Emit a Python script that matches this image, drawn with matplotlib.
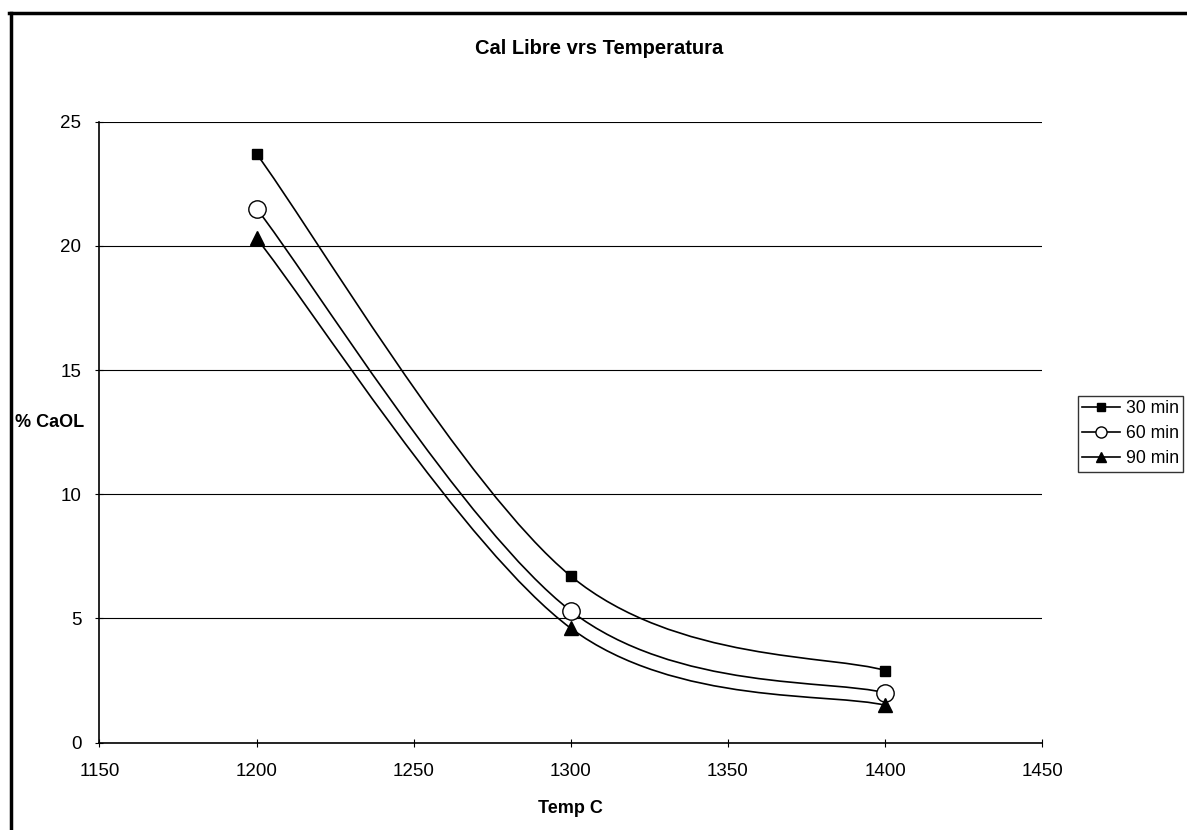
import numpy as np
import matplotlib.pyplot as plt
from matplotlib.path import Path
from matplotlib.patches import PathPatch
from matplotlib.lines import Line2D

plt.rcParams["font.family"] = ["Liberation Sans", "DejaVu Sans"]

# data
temps = [1200, 1300, 1400]
series_names = ["30 min", "60 min", "90 min"]
caol_30 = [23.7, 6.7, 2.9]
caol_60 = [21.5, 5.3, 2.0]
caol_90 = [20.3, 4.6, 1.5]
markers = ["s", "o", "^"]


def smooth_path(x, y):
    """Excel-style smoothed line as cubic Bezier segments."""
    pts = np.column_stack([x, y]).astype(float)
    ext = np.vstack([pts[0], pts, pts[-1]])
    verts = [pts[0]]
    codes = [Path.MOVETO]
    for i in range(len(pts) - 1):
        p0, p1, p2, p3 = ext[i], ext[i + 1], ext[i + 2], ext[i + 3]
        c1 = p1 + (p2 - p0) / 6.0
        c2 = p2 - (p3 - p1) / 6.0
        verts += [c1, c2, p2]
        codes += [Path.CURVE4] * 3
    return Path(verts, codes)


fig = plt.figure(figsize=(11.87, 8.3), dpi=100)
ax = fig.add_axes([0.0838, 0.1054, 0.7942, 0.748])

ax.set_axisbelow(True)
ax.yaxis.grid(color="black", linewidth=0.8)

handles = []
for vals, m, name in zip([caol_30, caol_60, caol_90], markers, series_names):
    ax.add_patch(PathPatch(smooth_path(temps, vals), facecolor="none",
                           edgecolor="black", linewidth=1.2, zorder=3))
    if m == "o":
        kw = dict(markersize=12.5, markerfacecolor="white", markeredgewidth=1.0)
        leg_ms = 8
    elif m == "s":
        kw = dict(markersize=7.5, markerfacecolor="black")
        leg_ms = 5.5
    else:
        kw = dict(markersize=10, markerfacecolor="black")
        leg_ms = 7.5
    ax.plot(temps, vals, linestyle="none", marker=m, color="black", zorder=4, **kw)
    kw_leg = dict(kw)
    kw_leg["markersize"] = leg_ms
    handles.append(Line2D([], [], color="black", linewidth=1.2, marker=m, **kw_leg))

ax.set_xlim(1150, 1450)
ax.set_ylim(0, 25)
ax.set_xticks(range(1150, 1451, 50))
ax.set_yticks(range(0, 26, 5))
ax.tick_params(direction="inout", length=6, width=0.8, labelsize=13.5)
ax.tick_params(axis="x", pad=12)
ax.tick_params(axis="y", pad=10)

ax.spines["right"].set_visible(False)
ax.spines["top"].set_visible(False)
ax.spines["left"].set_linewidth(1.2)
ax.spines["bottom"].set_linewidth(1.2)

fig.text(599 / 1187, 1 - 48 / 830, "Cal Libre vrs Temperatura", fontsize=14.5,
         fontweight="bold", ha="center", va="center")
ax.set_xlabel("Temp C", fontsize=13, fontweight="bold")
ax.xaxis.set_label_coords(0.5, -0.093)
ax.set_ylabel("% CaOL", fontsize=13, fontweight="bold", rotation=0,
              va="center", ha="center")
ax.yaxis.set_label_coords(-0.053, 0.5147)

leg = fig.legend(handles, series_names, loc="upper left",
                 bbox_to_anchor=(1078 / 1187, 1 - 396 / 830),
                 fontsize=12.7, frameon=True, fancybox=False, edgecolor="black",
                 handlelength=2.15, handletextpad=0.3, borderpad=0.25,
                 labelspacing=0.45, borderaxespad=0)
leg.get_frame().set_linewidth(1.0)

# outer chart frame (top and left edges visible)
fig.add_artist(Line2D([9 / 1187, 1], [1 - 13 / 830, 1 - 13 / 830],
                      transform=fig.transFigure, color="black", linewidth=2.5))
fig.add_artist(Line2D([11 / 1187, 11 / 1187], [0, 1 - 13 / 830],
                      transform=fig.transFigure, color="black", linewidth=2.5))

fig.savefig("out.png", dpi=100, facecolor="white")
